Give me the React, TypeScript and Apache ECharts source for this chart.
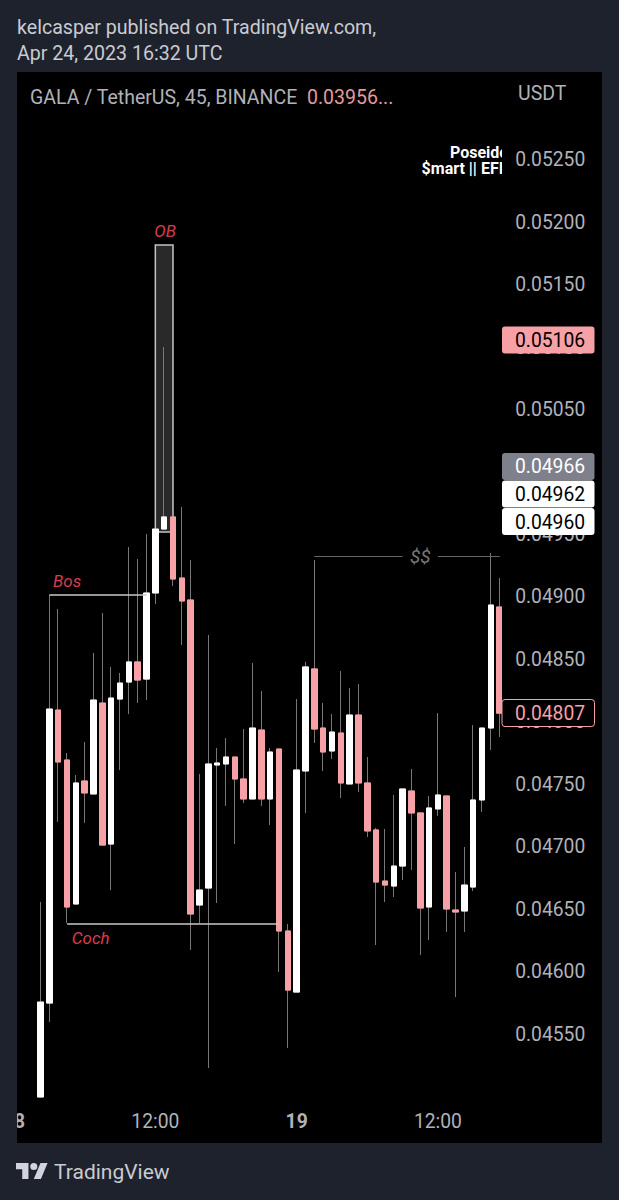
import React, { useEffect, useRef } from "react";
import * as echarts from "echarts";

const BAR_TIMES: string[] = [];
for (let m = 0; m < 56; m++) {
  const t = m * 45;
  const day = 18 + Math.floor(t / 1440);
  const hh = Math.floor((t % 1440) / 60);
  const mm = t % 60;
  BAR_TIMES.push(`${day} ${String(hh).padStart(2, "0")}:${String(mm).padStart(2, "0")}`);
}
const LEADING_EMPTY = 3;

const opens = [0.044997,0.045749,0.048095,0.047695,0.046542,0.047527,0.047423,0.048151,0.047022,0.048183,0.048319,0.04848,0.048343,0.049032,0.049544,0.049641,0.049152,0.048976,0.046534,0.04667,0.047655,0.047663,0.047719,0.047543,0.047383,0.047935,0.047383,0.047783,0.046326,0.045837,0.047607,0.048424,0.047951,0.047767,0.047911,0.047503,0.048055,0.047511,0.047135,0.046726,0.046686,0.046846,0.047447,0.047271,0.046518,0.047303,0.047407,0.046494,0.046486,0.046678,0.047375,0.047951,0.04892];
const closes = [0.045757,0.048103,0.047679,0.046518,0.047511,0.047431,0.048175,0.047014,0.048191,0.048311,0.04848,0.048335,0.049032,0.049544,0.049641,0.049144,0.048968,0.046462,0.046654,0.047663,0.047671,0.047719,0.047543,0.047383,0.047951,0.047383,0.047759,0.046326,0.045853,0.047615,0.04844,0.047943,0.047759,0.047919,0.047511,0.048055,0.047511,0.047127,0.046718,0.046694,0.046846,0.047463,0.047271,0.04651,0.047311,0.047415,0.046502,0.046478,0.046694,0.047375,0.047951,0.048936,0.04807];
const lows = [0.044997,0.045597,0.047199,0.04639,0.046542,0.047191,0.047423,0.047014,0.046654,0.047615,0.048063,0.048151,0.048175,0.048944,0.049544,0.049088,0.048616,0.046174,0.04639,0.045229,0.04655,0.047327,0.047022,0.047351,0.047383,0.047327,0.047175,0.045998,0.045389,0.045837,0.047271,0.047831,0.047607,0.047703,0.047391,0.047503,0.047439,0.047078,0.046214,0.046558,0.046598,0.046734,0.046814,0.046134,0.046254,0.047247,0.046318,0.045797,0.046318,0.046646,0.047279,0.047775,0.047879];
const highs = [0.046558,0.049016,0.048904,0.047751,0.047575,0.047839,0.048552,0.048872,0.04844,0.048392,0.0494,0.049304,0.049504,0.049544,0.051002,0.049641,0.049721,0.049296,0.047583,0.048696,0.047791,0.047871,0.047719,0.047943,0.048472,0.048247,0.047791,0.047783,0.046382,0.048183,0.04848,0.049296,0.048151,0.048063,0.048408,0.048271,0.048303,0.047719,0.047151,0.047143,0.047415,0.047463,0.047623,0.047271,0.047407,0.048071,0.047407,0.046798,0.046998,0.047975,0.047951,0.049352,0.049152];

const priceTicks = [0.0455,0.046,0.0465,0.047,0.0475,0.048,0.0485,0.049,0.0495,0.05,0.0505,0.051,0.0515,0.052,0.0525];

const PAGE = "#1e222d";
const UP = "#ffffff";
const DOWN = "#f7a1a7";
const WICK = "#777777";
const AXIS = "#b0b2b8";
const ANNOT_RED = "#d63d4e";
const FONT = "Roboto";

const cat = (i: number) => BAR_TIMES[i + LEADING_EMPTY];
const empty = Array.from({ length: LEADING_EMPTY }, () => ["-", "-", "-", "-"]);
const wickData = empty.concat(opens.map((o, i) => [o, closes[i], lows[i], highs[i]]) as any);
const bodyData = empty.concat(
  opens.map((o, i) => [o, closes[i], Math.min(o, closes[i]), Math.max(o, closes[i])]) as any
);

const tagRect = (y: number, fill: string, stroke?: string) => ({
  type: "rect",
  z: 20,
  shape: { x: 502, y, width: 92.5, height: 27, r: 3 },
  style: { fill, stroke: stroke ?? undefined, lineWidth: stroke ? 1 : 0 },
});
const text = (t: string, x: number, y: number, fill: string, font: string, z = 21) => ({
  type: "text",
  z,
  x,
  y,
  style: { text: t, fill, font, verticalAlign: "middle", align: "left" },
});

const markText = (i: number, price: number, t: string, color: string, size: number, offset: number[] = [0, 0], italic = true) => ({
  coord: [cat(i), price],
  symbol: "circle",
  symbolSize: 1,
  itemStyle: { color: "transparent", borderWidth: 0 },
  label: {
    show: true,
    position: "inside",
    formatter: t,
    color,
    fontFamily: FONT,
    fontSize: size,
    fontStyle: italic ? "italic" : "normal",
    offset,
  },
});

const segment = (i0: number, p0: number, i1: number, p1: number, color: string, width: number) => [
  { coord: [cat(i0), p0], lineStyle: { color, width, type: "solid" } },
  { coord: [cat(i1), p1] },
];

export default function App() {
  const ref = useRef<HTMLDivElement>(null);
  useEffect(() => {
    echarts.graphic.registerShape(
      "logo",
      echarts.graphic.extendPath(
        "M14 22H7V11H0V4h14v18zM28 22h-8l7.5-18h8L28 22zM24 8a4 4 0 1 1-8 0a4 4 0 0 1 8 0z",
        {}
      )
    );
    const chart = echarts.init(ref.current!, null, { renderer: "svg" });
    chart.setOption({
      animation: false,
      backgroundColor: PAGE,
      grid: { left: 9.38, top: 72, width: 494.76, height: 1033, containLabel: false },
      xAxis: {
        type: "category",
        data: BAR_TIMES,
        boundaryGap: true,
        axisLine: { show: false },
        axisTick: { show: false },
        splitLine: { show: false },
        axisLabel: {
          color: AXIS,
          fontFamily: FONT,
          fontSize: 19.3,
          margin: 7,
          hideOverlap: false,
          interval: (_: number, v: string) => v.endsWith(" 00:00") || v.endsWith(" 12:00"),
          formatter: (v: string) => {
            const [day, hm] = v.split(" ");
            return hm === "00:00" ? `{b|${day}}` : hm;
          },
          rich: { b: { fontWeight: "bold", fontSize: 19.3, fontFamily: FONT, color: AXIS } },
        },
      },
      yAxis: {
        type: "value",
        position: "right",
        min: 0.044933,
        max: 0.053203,
        axisLine: { show: false },
        axisTick: { show: false },
        splitLine: { show: false },
        axisLabel: {
          customValues: priceTicks,
          color: AXIS,
          fontFamily: FONT,
          fontSize: 19.3,
          margin: 11,
          padding: [2, 0, 0, 0],
          formatter: (v: number) => v.toFixed(5),
        },
      },
      series: [
        {
          name: "wicks",
          type: "candlestick",
          z: 3,
          barWidth: 6,
          data: wickData,
          silent: true,
          itemStyle: {
            color: "transparent",
            color0: "transparent",
            borderColor: WICK,
            borderColor0: WICK,
            borderWidth: 1,
          },
        },
        {
          name: "GALA / TetherUS",
          type: "candlestick",
          z: 4,
          barWidth: 6,
          data: bodyData,
          silent: true,
          itemStyle: {
            color: UP,
            color0: DOWN,
            borderColor: UP,
            borderColor0: DOWN,
            borderWidth: 1,
          },
          markArea: {
            silent: true,
            itemStyle: { color: "rgba(255,255,255,0.16)", borderColor: "#c4c4c4", borderWidth: 1.5 },
            data: [[{ coord: [cat(13), 0.051818] }, { coord: [cat(15), 0.04952] }]],
          },
          markLine: {
            silent: true,
            symbol: "none",
            label: { show: false },
            data: [
              segment(1, 0.049016, 12, 0.049016, "#c8c8c8", 1.5),
              segment(3, 0.046382, 27, 0.046382, "#c8c8c8", 1.5),
              segment(31, 0.049328, 41, 0.049328, "#666666", 1),
              segment(45, 0.049328, 52, 0.049328, "#666666", 1),
            ],
          },
          markPoint: {
            silent: true,
            data: [
              markText(3, 0.049128, "Bos", ANNOT_RED, 17),
              markText(5, 0.04627, "Coch", ANNOT_RED, 17, [6, 0]),
              markText(14, 0.05193, "OB", ANNOT_RED, 17, [1, 0]),
              markText(43, 0.049328, "$$", "#777777", 19),
            ],
          },
        },
      ],
      graphic: [
        { type: "rect", z: -1, shape: { x: 17, y: 72, width: 585, height: 1071 }, style: { fill: "#000000" } },
        { type: "rect", z: 6, shape: { x: 0, y: 72, width: 17, height: 1071 }, style: { fill: PAGE } },
        text("Poseido", 450, 152, "#ffffff", "bold 16px Roboto", 5),
        text("$mart || EFI", 421.6, 168, "#ffffff", "bold 16px Roboto", 5),
        { type: "rect", z: 6, shape: { x: 502, y: 72, width: 11, height: 1033 }, style: { fill: "#000000" } },
        text("kelcasper published on TradingView.com,", 17, 27, "#c9cbd1", "19.6px Roboto"),
        text("Apr 24, 2023 16:32 UTC", 17, 53, "#c9cbd1", "19.6px Roboto"),
        text("GALA / TetherUS, 45, BINANCE", 30, 97, AXIS, "19.5px Roboto"),
        text("0.03956...", 307, 97, "#e39a9f", "19.5px Roboto"),
        text("USDT", 518, 93, AXIS, "19.5px Roboto"),
        tagRect(326.5, DOWN),
        text("0.05106", 515, 340, "#000000", "19.3px Roboto"),
        tagRect(453, "#7e808b"),
        text("0.04966", 515, 466.5, "#ffffff", "19.3px Roboto"),
        tagRect(480.5, "#ffffff"),
        text("0.04962", 515, 494, "#000000", "19.3px Roboto"),
        tagRect(508, "#ffffff"),
        text("0.04960", 515, 522, "#000000", "19.3px Roboto"),
        tagRect(699.5, "#000000", DOWN),
        text("0.04807", 515, 713, DOWN, "19.3px Roboto"),
        { type: "logo", z: 21, x: 16, y: 1159.4, scaleX: 0.89, scaleY: 0.89, style: { fill: "#d1d4dc" } },
        text("TradingView", 54, 1172, "#c9cbd1", "21px Roboto"),
      ],
    });
    return () => chart.dispose();
  }, []);
  return (
    <div
      ref={ref}
      style={{ position: "absolute", left: 0, top: 0, width: 619, height: 1200 }}
    />
  );
}
